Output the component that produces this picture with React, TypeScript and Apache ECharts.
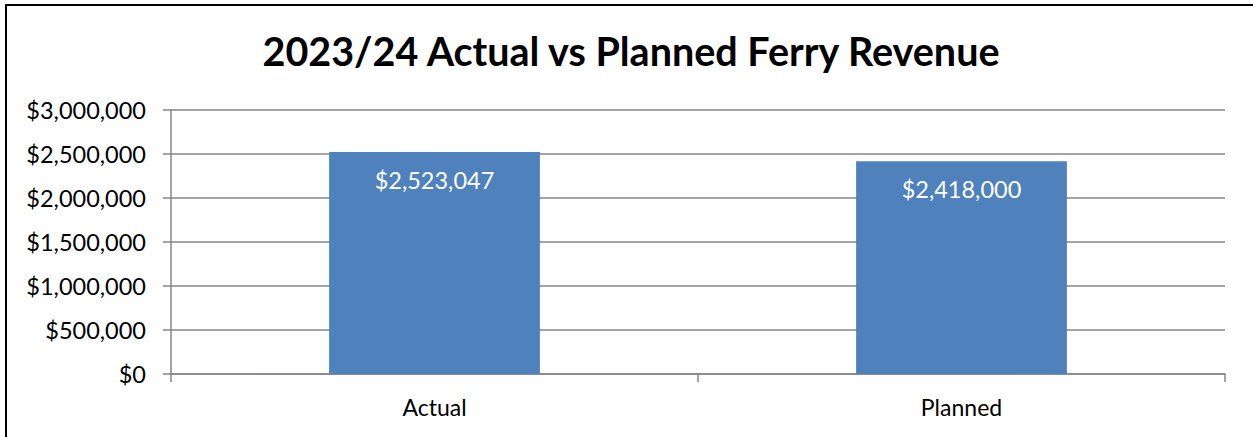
import React, { useEffect, useRef } from "react";
import * as echarts from "echarts";

const categories = ["Actual", "Planned"];
const revenue = [2523047, 2418000];
const yTicks = [0, 500000, 1000000, 1500000, 2000000, 2500000, 3000000];
const title = "2023/24 Actual vs Planned Ferry Revenue";

const fmt = (v: number) => "$" + Math.round(v).toLocaleString("en-US");

export default function App() {
  const ref = useRef<HTMLDivElement>(null);
  useEffect(() => {
    if (!ref.current) return;
    const chart = echarts.init(ref.current, undefined, { renderer: "svg" });
    const font = "Lato, 'Noto Sans', sans-serif";
    chart.setOption({
      animation: false,
      backgroundColor: "#ffffff",
      title: {
        text: title,
        left: 626,
        textAlign: "center",
        top: 25,
        textStyle: { fontFamily: font, fontWeight: "bold", fontSize: 39.5, color: "#000000" },
      },
      graphic: [
        {
          type: "rect",
          shape: { x: 6, y: 5, width: 1300, height: 500 },
          style: { fill: "none", stroke: "#000000", lineWidth: 2 },
          silent: true,
        },
      ],
      grid: { left: 171, right: 28, top: 110, bottom: 63, containLabel: false },
      xAxis: {
        type: "category",
        data: categories,
        axisLine: { lineStyle: { color: "#868686", width: 1.5 } },
        axisTick: { show: true, length: 8, lineStyle: { color: "#868686", width: 1.5 } },
        axisLabel: { fontFamily: font, fontSize: 23, color: "#000000", margin: 21 },
      },
      yAxis: {
        type: "value",
        min: yTicks[0],
        max: yTicks[yTicks.length - 1],
        interval: yTicks[1] - yTicks[0],
        axisLine: { show: true, lineStyle: { color: "#868686", width: 1.5 } },
        axisTick: { show: true, length: 8, lineStyle: { color: "#868686", width: 1.5 } },
        splitLine: { show: true, lineStyle: { color: "#868686", width: 1.5 } },
        axisLabel: { fontFamily: font, fontSize: 23.5, color: "#000000", margin: 25, formatter: (v: number) => fmt(v) },
      },
      series: [
        {
          type: "bar",
          data: revenue,
          barWidth: "40%",
          itemStyle: { color: "#4F81BD" },
          label: {
            show: true,
            position: "insideTop",
            distance: 16,
            color: "#ffffff",
            fontFamily: font,
            fontSize: 23.5,
            formatter: (p: any) => fmt(p.value),
          },
        },
      ],
    });
    return () => chart.dispose();
  }, []);
  return (
    <div
      ref={ref}
      style={{ position: "absolute", left: 0, top: 0, width: 1253, height: 437 }}
    />
  );
}
